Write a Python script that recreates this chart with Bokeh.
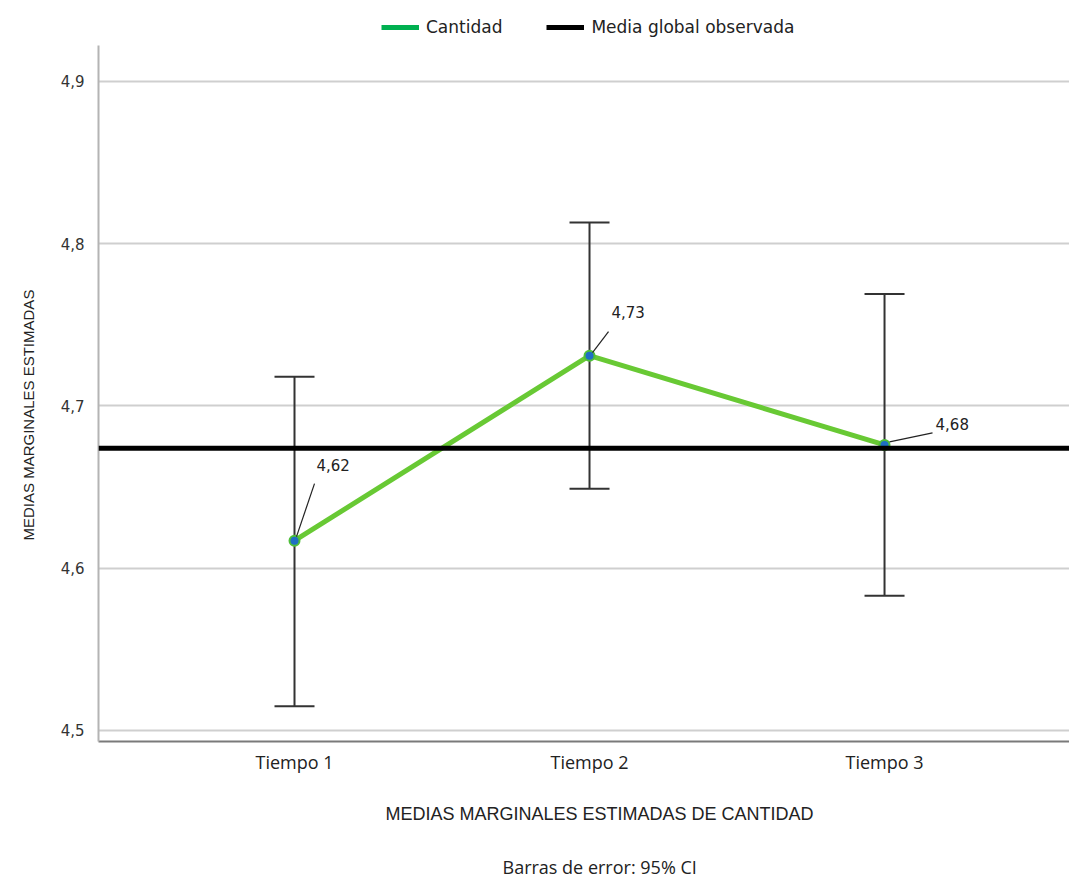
from bokeh.plotting import figure
from bokeh.models import (ColumnDataSource, Whisker, TeeHead, Span, Label,
                          Legend, LegendItem, FixedTicker, Title)
from bokeh.embed import file_html
from bokeh.resources import INLINE

# Estimated marginal means per time point with 95% CI
tiempos = ["Tiempo 1", "Tiempo 2", "Tiempo 3"]
medias = [4.617, 4.731, 4.676]
ic_superior = [4.718, 4.813, 4.769]
ic_inferior = [4.515, 4.649, 4.583]
media_global = 4.674

y_ticks = [4.5, 4.6, 4.7, 4.8, 4.9]
y_tick_labels = ["4,5", "4,6", "4,7", "4,8", "4,9"]

W, H = 1069, 880
FRAME_L, FRAME_B = 98, 741
frame_w = W - FRAME_L
frame_h = FRAME_B

x_pos = list(range(1, len(tiempos) + 1))
x_start, x_end = 0.3356, 3.627
y_start, y_end = 4.4932, 4.9499
y_axis_top = 4.9222

p = figure(width=W, height=H, output_backend="svg", toolbar_location=None,
           x_range=(x_start, x_end), y_range=(y_start, y_end),
           min_border_left=FRAME_L, min_border_right=0,
           min_border_top=0, min_border_bottom=H - FRAME_B)
p.outline_line_color = None
p.background_fill_color = "white"
p.border_fill_color = "white"

# axes
p.xaxis.ticker = FixedTicker(ticks=x_pos)
p.xaxis.major_label_overrides = {x: t for x, t in zip(x_pos, tiempos)}
p.yaxis.ticker = FixedTicker(ticks=y_ticks)
p.yaxis.major_label_overrides = {v: t for v, t in zip(y_ticks, y_tick_labels)}
p.yaxis.bounds = (y_start, y_axis_top)
for ax in (p.xaxis, p.yaxis):
    ax.major_tick_line_color = None
    ax.minor_tick_line_color = None
    ax.major_tick_out = 0
    ax.major_tick_in = 0
    ax.minor_tick_out = 0
p.yaxis.axis_line_color = "#b4b4b4"
p.yaxis.axis_line_width = 2
p.xaxis.axis_line_color = "#7a7a7a"
p.xaxis.axis_line_width = 2
p.yaxis.major_label_text_font = "DejaVu Sans"
p.yaxis.major_label_text_font_size = "15px"
p.yaxis.major_label_text_color = "#333333"
p.yaxis.major_label_standoff = 14
p.xaxis.major_label_text_font = "Open Sans"
p.xaxis.major_label_text_font_size = "18px"
p.xaxis.major_label_text_color = "#222222"
p.xaxis.major_label_standoff = 8

p.xgrid.grid_line_color = None
p.ygrid.grid_line_color = "#cfcfcf"
p.ygrid.grid_line_width = 2

# overall observed mean
p.add_layout(Span(location=media_global, dimension="width",
                  line_color="black", line_width=5))

# 95% CI whiskers
src = ColumnDataSource(dict(x=x_pos, media=medias,
                            sup=ic_superior, inf=ic_inferior))
cap = dict(size=40, line_color="#333333", line_width=2)
p.add_layout(Whisker(base="x", upper="sup", lower="inf", source=src,
                     line_color="#333333", line_width=2,
                     upper_head=TeeHead(**cap), lower_head=TeeHead(**cap)))

# mean profile
p.line("x", "media", source=src, line_color="#68c934", line_width=5)
p.scatter("x", "media", source=src, size=10, fill_color="#1f6fc4",
          line_color="#4fbf3a", line_width=2)

# value callouts: leader line ends and label position, in px from the point
px_x = (x_end - x_start) / frame_w
px_y = (y_end - y_start) / frame_h
leader = [((2, 4), (20, 57)), ((3, 3), (19, 24)), ((5, 3), (48, 12))]
label_off = [(22, 70), (22, 38), (51, 15)]
for xi, m, (a, b), (lx, ly) in zip(x_pos, medias, leader, label_off):
    p.segment(x0=[xi + a[0] * px_x], y0=[m + a[1] * px_y],
              x1=[xi + b[0] * px_x], y1=[m + b[1] * px_y],
              line_color="#222222", line_width=1.2)
    p.add_layout(Label(x=xi, y=m, x_offset=lx, y_offset=ly,
                       text=f"{m:.2f}".replace(".", ","),
                       text_font="DejaVu Sans", text_font_size="15px",
                       text_color="#222222", text_baseline="bottom"))

# legend (swatches drawn from placeholder renderers)
nan = float("nan")
g1 = p.line([nan, nan], [nan, nan], line_color="#00b050", line_width=5)
g2 = p.line([nan, nan], [nan, nan], line_color="black", line_width=5)
legend = Legend(items=[LegendItem(label="Cantidad", renderers=[g1]),
                       LegendItem(label="Media global observada", renderers=[g2])],
                orientation="horizontal", location=(283, 704),
                glyph_width=38, glyph_height=20, label_height=20,
                label_text_font="DejaVu Sans", label_text_font_size="17px",
                label_text_color="#222222", label_text_baseline="middle",
                label_standoff=7, spacing=44,
                border_line_color=None, background_fill_alpha=0,
                padding=0, margin=0)
p.add_layout(legend, "center")

# axis titles and footnote
p.add_layout(Title(text="MEDIAS MARGINALES ESTIMADAS", align="left",
                   vertical_align="top", offset=201, standoff=37,
                   text_font="Liberation Sans", text_font_size="15px",
                   text_font_style="normal", text_color="#222222"), "left")
p.add_layout(Title(text="MEDIAS MARGINALES ESTIMADAS DE CANTIDAD", align="left",
                   vertical_align="top", offset=287, standoff=54,
                   text_font="Liberation Sans", text_font_size="18px",
                   text_font_style="normal", text_color="#222222"), "below")
p.add_layout(Title(text="Barras de error: 95% CI", align="left",
                   vertical_align="bottom", offset=404, standoff=0,
                   text_font="Open Sans", text_font_size="18px",
                   text_font_style="normal", text_color="#222222"), "below")

open("out.html", "w").write(file_html(p, INLINE))
